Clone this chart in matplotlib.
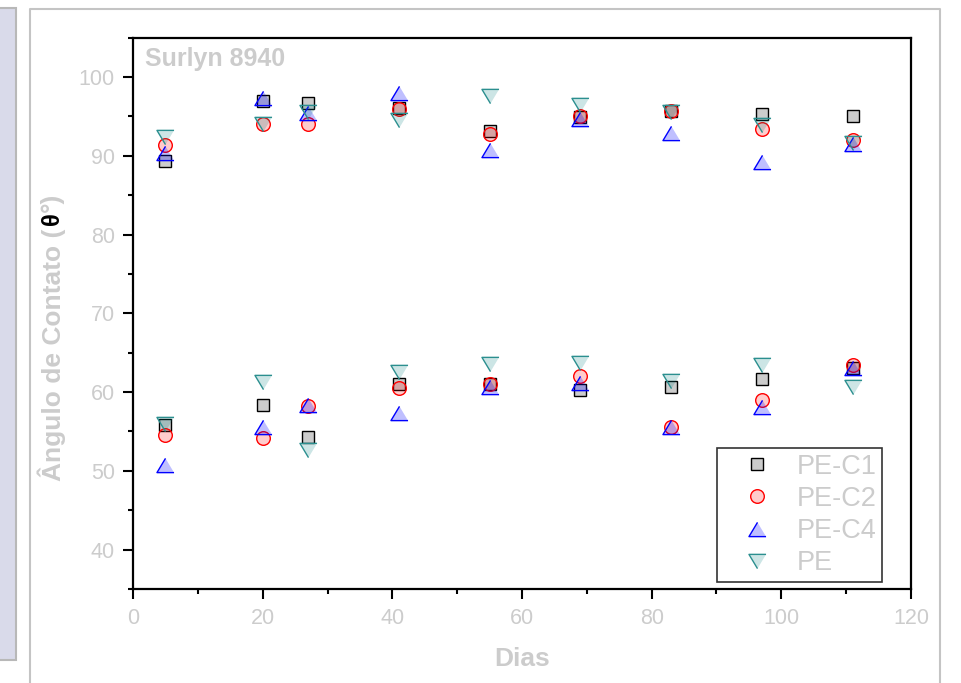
import matplotlib.pyplot as plt
from matplotlib.patches import Rectangle
from matplotlib.lines import Line2D
from matplotlib.ticker import MultipleLocator

plt.rcParams['font.family'] = ['Liberation Sans', 'DejaVu Sans']

days = [5, 20, 27, 41, 55, 69, 83, 97, 111]

# two measurements per day (upper and lower group)
pe_c1_high = [89.4, 97.0, 96.7, 96.1, 93.2, 94.9, 95.7, 95.3, 95.1]
pe_c1_low = [55.8, 58.4, 54.3, 61.0, 61.0, 60.3, 60.6, 61.7, 63.0]
pe_c2_high = [91.4, 94.0, 94.1, 96.0, 92.8, 95.1, 95.7, 93.4, 92.0]
pe_c2_low = [54.6, 54.2, 58.2, 60.5, 61.0, 62.0, 55.6, 59.0, 63.4]
pe_c4_high = [90.3, 97.3, 95.4, 98.0, 90.8, 94.7, 92.9, 89.2, 91.5]
pe_c4_low = [50.8, 55.6, 58.3, 57.3, 60.6, 61.2, 55.6, 58.1, 63.0]
pe_high = [92.4, 94.0, 95.6, 94.5, 97.6, 96.5, 95.6, 93.9, 91.6]
pe_low = [55.9, 61.3, 52.6, 62.5, 63.6, 63.7, 61.4, 63.4, 60.7]

labels = ['PE-C1', 'PE-C2', 'PE-C4', 'PE']

gray_txt = '#cccccc'
W, H = 962, 683

fig = plt.figure(figsize=(W / 100, H / 100), dpi=100)

# decorations around the plot (side panel + frame)
fig.patches.append(Rectangle((-2 / W, 1 - 660 / H), 18 / W, 652 / H, transform=fig.transFigure,
                             facecolor='#d9daea', edgecolor='#b8b8b8', lw=1.5))
fig.add_artist(Line2D([30 / W, 30 / W, 940 / W, 940 / W], [0, 1 - 9 / H, 1 - 9 / H, 0],
                      transform=fig.transFigure, color='#c4c4c4', lw=1.5))

ax = fig.add_axes([133 / W, 1 - 589 / H, (911 - 133) / W, (589 - 37.7) / H])

tri_up = [(0, 1), (-1.2, -1), (1.2, -1)]
tri_dn = [(0, -1), (-1.2, 1), (1.2, 1)]

x2 = days + days
ax.plot(x2, pe_c1_high + pe_c1_low, ls='none', marker='s', ms=8.3, mew=1.0,
        mfc=(0, 0, 0, 0.2), mec='black', label=labels[0])
ax.plot(x2, pe_c2_high + pe_c2_low, ls='none', marker='o', ms=9.8, mew=1.0,
        mfc=(1, 0, 0, 0.2), mec='red', label=labels[1])
ax.plot(x2, pe_c4_high + pe_c4_low, ls='none', marker=tri_up, ms=12.3, mew=1.0,
        mfc=(0, 0, 1, 0.25), mec='blue', label=labels[2])
ax.plot(x2, pe_high + pe_low, ls='none', marker=tri_dn, ms=12.3, mew=1.0,
        mfc=(0, 0.5, 0.5, 0.2), mec='#2b8f8f', label=labels[3])

ax.set_xlim(0, 120)
ax.set_ylim(35, 105)
ax.xaxis.set_major_locator(MultipleLocator(20))
ax.xaxis.set_minor_locator(MultipleLocator(10))
ax.yaxis.set_major_locator(MultipleLocator(10))
ax.yaxis.set_minor_locator(MultipleLocator(5))
ax.set_yticks([40, 50, 60, 70, 80, 90, 100])
ax.tick_params(which='both', direction='out', width=1.5, colors='black', labelcolor=gray_txt,
               labelsize=15.5, top=False, right=False)
ax.tick_params(which='major', length=7)
ax.tick_params(which='minor', length=3.5)
ax.tick_params(axis='x', pad=7)
ax.tick_params(axis='y', pad=6)
for s in ax.spines.values():
    s.set_linewidth(1.6)

ax.text(145 / W, 1 - 66 / H, 'Surlyn 8940', transform=fig.transFigure, fontsize=18,
        fontweight='bold', color=gray_txt, va='baseline', ha='left')

fig.text(522 / W, 1 - 666 / H, 'Dias', fontsize=19, fontweight='bold', color=gray_txt,
         ha='center', va='baseline')

# y label in pieces: the theta is black in the original
fig.text(52 / W, 1 - 481 / H, 'Ângulo de Contato (', rotation=90, fontsize=19, fontweight='bold',
         color=gray_txt, ha='center', va='bottom')
fig.text(52 / W, 1 - 219 / H, 'θ', rotation=90, fontsize=17, fontweight='bold',
         color='black', ha='center', va='center')
fig.text(52 / W, 1 - 193 / H, '°)', rotation=90, fontsize=19, fontweight='bold',
         color=gray_txt, ha='center', va='top')

leg = ax.legend(loc='upper left', bbox_to_anchor=(716.7 / W, 1 - 448.3 / H),
                bbox_transform=fig.transFigure, borderaxespad=0, fontsize=19.5,
                labelcolor=gray_txt, fancybox=False, framealpha=1, edgecolor='#333333',
                borderpad=0.2, handlelength=2.55, handletextpad=0.2, labelspacing=0.23)
leg.get_frame().set_linewidth(1.2)

fig.savefig('out.png', dpi=100)
